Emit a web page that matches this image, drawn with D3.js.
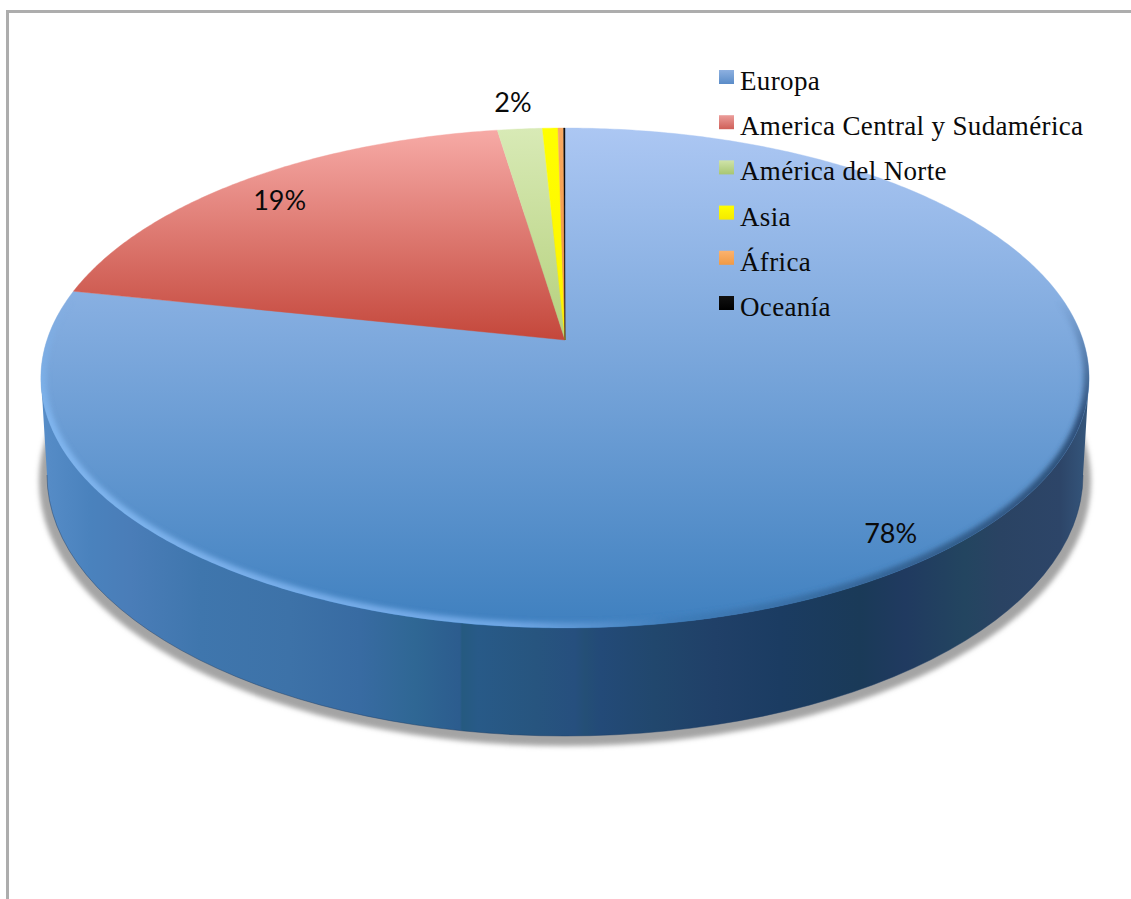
<!DOCTYPE html>
<html>
<head>
  <meta charset="utf-8">
  <title>Pie</title>
  <script src="https://d3js.org/d3.v7.min.js"></script>
  <style>
    body { margin: 0; background: #fff; }
    svg { display: block; }
    .legend { font-family: "Liberation Serif", serif; font-size: 27px; fill: #0a0a0a; letter-spacing: 0.35px; }
    .pct { font-family: Lato, sans-serif; font-size: 27px; fill: #0a0a0a; text-anchor: middle; }
  </style>
</head>
<body>
<div id="chart"></div>
<script>
var categories = ['Europa', 'America Central y Sudamérica', 'América del Norte', 'Asia', 'África', 'Oceanía'];
var values = [78.3, 19.3, 1.6, 0.55, 0.2, 0.05];
var labels = ['78%', '19%', '2%', null, null, null];

// top and bottom colour of each slice
var topColors = ['#acc7f3', '#f7aba7', '#d8eab6', '#ffff00', '#f8a962', '#111111'];
var lowColors = ['#3f80bf', '#c4473b', '#b5d07c', '#fdf200', '#ef9238', '#000000'];
var swatchTop = ['#8db0e0', '#eb9d9a', '#cfe3a8', '#ffff00', '#fbb26e', '#111111'];
var swatchLow = ['#5a8cc8', '#cf5f58', '#a8c672', '#f5ea00', '#f09a45', '#000000'];

// side wall bands, left to right
var wallStops = [
  [41, '#578dc8'], [90, '#4a82bd'], [130, '#4a7db8'], [200, '#3f76ad'], [290, '#3d72a8'], [360, '#386ba2'],
  [415, '#2f6794'], [460, '#2c5c8e'], [462, '#255a80'], [478, '#285a88'], [535, '#27557f'],
  [575, '#264f7e'], [585, '#244f76'], [600, '#234a78'], [655, '#21476d'], [715, '#204068'],
  [780, '#1b3c62'], [860, '#1a3a58'], [905, '#203a60'], [965, '#234560'], [1000, '#2a4363'],
  [1060, '#2d4568'], [1089, '#35577d']
];

var width = 1131, height = 899;
var svg = d3.select('#chart').append('svg').attr('width', width).attr('height', height);
var defs = svg.append('defs');

// circle to picture, the far side of the disc is a bit smaller so the centre sits above the ellipse middle
var cx = 565, cy = 340, k = 0.152, ax = 518, ay = 192.5;
function project(f, a) {
  var u = f * Math.sin(a), v = f * Math.cos(a), d = 1 + k * v;
  return [cx + ax * u / d, (cy - ay * v) / d];
}
function rim(a0, a1) {
  var n = Math.max(2, Math.ceil((a1 - a0) / 0.01));
  return d3.range(n + 1).map(function(i) { return project(1, a0 + (a1 - a0) * i / n); });
}
var line = d3.line();

var pie = d3.pie().sort(null).value(function(d) { return d; });
var arcs = pie(values);

// gradients
arcs.forEach(function(d, i) {
  var g = defs.append('linearGradient').attr('id', 'slice' + i)
    .attr('gradientUnits', 'userSpaceOnUse')
    .attr('x1', 0).attr('x2', 0).attr('y1', 128).attr('y2', i === 0 ? 628 : 340);
  g.append('stop').attr('offset', 0).attr('stop-color', topColors[i]);
  g.append('stop').attr('offset', 1).attr('stop-color', lowColors[i]);

  var s = defs.append('linearGradient').attr('id', 'swatch' + i)
    .attr('x1', 0).attr('x2', 0).attr('y1', 0).attr('y2', 1);
  s.append('stop').attr('offset', 0).attr('stop-color', swatchTop[i]);
  s.append('stop').attr('offset', 1).attr('stop-color', swatchLow[i]);
});

var wallX = d3.scaleLinear().domain([41, 1089]).range([0, 1]);
var wall = defs.append('linearGradient').attr('id', 'wall')
  .attr('gradientUnits', 'userSpaceOnUse')
  .attr('x1', 41).attr('x2', 1089).attr('y1', 0).attr('y2', 0);
wallStops.forEach(function(d) {
  wall.append('stop').attr('offset', wallX(d[0])).attr('stop-color', d[1]);
});

var rimG = defs.append('linearGradient').attr('id', 'rimGrad')
  .attr('gradientUnits', 'userSpaceOnUse')
  .attr('x1', 41).attr('x2', 1089).attr('y1', 0).attr('y2', 0);
rimG.append('stop').attr('offset', 0).attr('stop-color', '#80b5ee');
rimG.append('stop').attr('offset', 0.45).attr('stop-color', '#6fa6e4');
rimG.append('stop').attr('offset', 0.6).attr('stop-color', '#3f7dba');
rimG.append('stop').attr('offset', 0.85).attr('stop-color', '#34608f');
rimG.append('stop').attr('offset', 1).attr('stop-color', '#2d4f78');

// bevel fades in as it comes round to the front
var fade = defs.append('linearGradient').attr('id', 'rimFade')
  .attr('gradientUnits', 'userSpaceOnUse')
  .attr('x1', 0).attr('x2', 0).attr('y1', 300).attr('y2', 420);
fade.append('stop').attr('offset', 0).attr('stop-color', '#000');
fade.append('stop').attr('offset', 1).attr('stop-color', '#fff');
defs.append('mask').attr('id', 'rimMask')
  .attr('maskUnits', 'userSpaceOnUse')
  .attr('x', 0).attr('y', 0).attr('width', width).attr('height', height)
  .append('rect').attr('width', width).attr('height', height).attr('fill', 'url(#rimFade)');

defs.append('filter').attr('id', 'blur3').attr('x', '-5%').attr('y', '-5%').attr('width', '110%').attr('height', '110%')
  .append('feGaussianBlur').attr('stdDeviation', 2.5);
defs.append('filter').attr('id', 'blur2').attr('x', '-5%').attr('y', '-5%').attr('width', '110%').attr('height', '110%')
  .append('feGaussianBlur').attr('stdDeviation', 2.5);

var disc = rim(0, 2 * Math.PI);
defs.append('clipPath').attr('id', 'discClip').append('path').attr('d', line(disc) + 'Z');

// frame
svg.append('path').attr('d', 'M7.5,899V11.5H1131').attr('fill', 'none').attr('stroke', '#adadad').attr('stroke-width', 3);

// shadow
svg.append('ellipse').attr('cx', 565).attr('cy', 481).attr('rx', 526).attr('ry', 265)
  .attr('fill', '#a4a4a4').attr('filter', 'url(#blur3)');

// side wall
var bx = 518, by = 261, bcy = 475;
svg.append('path')
  .attr('d', 'M41,378L' + (cx - bx) + ',' + bcy +
    'A' + bx + ',' + by + ' 0 0 0 ' + (cx + bx) + ',' + bcy + 'L1089,378Z')
  .attr('fill', 'url(#wall)');
svg.append('path')
  .attr('d', 'M' + (cx - bx) + ',' + bcy + 'A' + bx + ',' + by + ' 0 0 0 ' + (cx + bx) + ',' + bcy)
  .attr('fill', 'none')
  .attr('stroke', '#1e3f66')
  .attr('stroke-opacity', 0.45)
  .attr('stroke-width', 1);

// top face
svg.append('g').selectAll('path').data(arcs).join('path')
  .attr('d', function(d) {
    return line([[cx, cy]].concat(rim(d.startAngle, d.endAngle))) + 'Z';
  })
  .attr('fill', function(d, i) { return 'url(#slice' + i + ')'; })
  .attr('stroke', function(d, i) { return 'url(#slice' + i + ')'; })
  .attr('stroke-width', 0.4);

// bevel along the front edge of the big slice
svg.append('g').attr('clip-path', 'url(#discClip)')
  .append('g').attr('mask', 'url(#rimMask)')
  .append('path')
  .attr('d', line(rim(arcs[0].startAngle + 1.2, arcs[0].endAngle)))
  .attr('fill', 'none')
  .attr('stroke', 'url(#rimGrad)')
  .attr('stroke-width', 11)
  .attr('filter', 'url(#blur2)');

// percent labels
var labelRadius = [0.9, 0.87, 1.1];
var labelShift = [[-3, 3], [-3, 2], [-3, -8]];
arcs.forEach(function(d, i) {
  if (!labels[i]) return;
  var p = project(labelRadius[i], (d.startAngle + d.endAngle) / 2);
  svg.append('text').attr('class', 'pct')
    .attr('x', p[0] + labelShift[i][0]).attr('y', p[1] + 9 + labelShift[i][1])
    .text(labels[i]);
});

// legend
var legendY = d3.scalePoint().domain(categories).range([70, 296]);
var legend = svg.append('g').selectAll('g').data(categories).join('g')
  .attr('transform', function(d) { return 'translate(719,' + legendY(d) + ')'; });
legend.append('rect').attr('width', 15).attr('height', 14)
  .attr('fill', function(d, i) { return 'url(#swatch' + i + ')'; });
legend.append('text').attr('class', 'legend').attr('x', 21).attr('y', 20)
  .text(function(d) { return d; });
</script>
</body>
</html>
